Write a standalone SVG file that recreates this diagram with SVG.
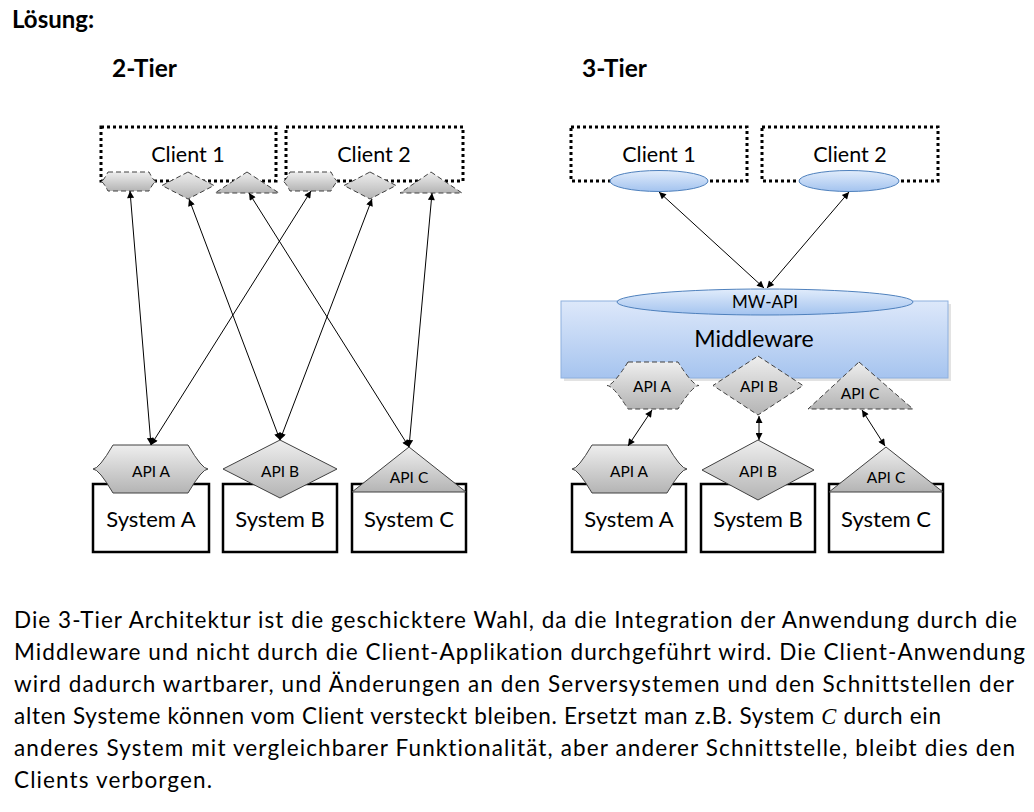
<svg xmlns="http://www.w3.org/2000/svg" width="1034" height="812" viewBox="0 0 1034 812">
<defs>
<linearGradient id="gGray" x1="0" y1="0" x2="0" y2="1"><stop offset="0" stop-color="#eeeeee"/><stop offset="1" stop-color="#b4b4b4"/></linearGradient>
<linearGradient id="gBlue" x1="0" y1="0" x2="0" y2="1"><stop offset="0" stop-color="#e1ecfb"/><stop offset="1" stop-color="#a3c3ef"/></linearGradient>
<linearGradient id="gMw" x1="0" y1="0" x2="0" y2="1"><stop offset="0" stop-color="#dde8fa"/><stop offset="1" stop-color="#a6c4ef"/></linearGradient>
<marker id="ah" viewBox="0 0 10 10" refX="10" refY="5" markerWidth="9" markerHeight="7" markerUnits="userSpaceOnUse" orient="auto-start-reverse"><path d="M0,0 L10,5 L0,10 z" fill="#000"/></marker>
<style>
.t{font-family:Lato,"Liberation Sans",sans-serif;fill:#000;font-variant-ligatures:none}
.b{font-weight:bold}
.client{fill:#fff;stroke:#000;stroke-width:3;stroke-dasharray:3 3}
.sys{fill:#fff;stroke:#000;stroke-width:2.5}
.api{fill:url(#gGray);stroke:#404040;stroke-width:1}
.dash{stroke-dasharray:5 3}
.ell{fill:url(#gBlue);stroke:#4f81bd;stroke-width:1}
.conn line{stroke:#000;stroke-width:1;marker-start:url(#ah);marker-end:url(#ah)}
.lbl{font-size:21.5px;text-anchor:middle}
.slbl{font-size:22px;text-anchor:middle}
.albl{font-size:15.5px;text-anchor:middle}
.p{font-size:22.5px}
</style>
</defs>
<rect width="1034" height="812" fill="#fff"/>

<text class="t b" x="12" y="28" font-size="24">Lösung:</text>
<text class="t b" x="112" y="77" font-size="24.5">2-Tier</text>
<text class="t b" x="582" y="77" font-size="24.5">3-Tier</text>

<!-- 2-Tier -->
<g id="l-client1">
<rect class="client" x="101" y="127" width="175" height="54"/>
<text class="t lbl" x="188" y="162">Client 1</text>
</g>
<g id="l-client2">
<rect class="client" x="286" y="127" width="177" height="54"/>
<text class="t lbl" x="374" y="162">Client 2</text>
</g>
<g id="l-c1-apis">
<path class="api dash" d="M108,172 H149 Q153.9,181.5 156,181.5 Q153.9,181.5 149,191 H108 Q103.1,181.5 101,181.5 Q103.1,181.5 108,172 Z"/>
<path class="api dash" d="M188,172 L214,185.5 L188,199 L162,185.5 Z"/>
<path class="api dash" d="M247,172 L279,193 L215,193 Z"/>
</g>
<g id="l-c2-apis">
<path class="api dash" d="M290,172 H331 Q335.9,181.5 338,181.5 Q335.9,181.5 331,191 H290 Q285.1,181.5 283,181.5 Q285.1,181.5 290,172 Z"/>
<path class="api dash" d="M370,172 L396,185.5 L370,199 L344,185.5 Z"/>
<path class="api dash" d="M431,172 L462,193 L400,193 Z"/>
</g>
<g id="l-sysA">
<rect class="sys" x="93" y="484" width="116" height="68"/>
<path class="api" d="M113,445 H188 Q202,469 208,469 Q202,469 188,493 H113 Q99,469 93,469 Q99,469 113,445 Z"/>
<text class="t albl" x="151" y="477">API A</text>
<text class="t slbl" x="151" y="527">System A</text>
</g>
<g id="l-sysB">
<rect class="sys" x="223" y="484" width="114" height="68"/>
<path class="api" d="M280,440 L337,469 L280,498 L223,469 Z"/>
<text class="t albl" x="280" y="477">API B</text>
<text class="t slbl" x="280" y="527">System B</text>
</g>
<g id="l-sysC">
<rect class="sys" x="352" y="484" width="114" height="68"/>
<path class="api" d="M409,447 L466,492 L352,492 Z"/>
<text class="t albl" x="409" y="483">API C</text>
<text class="t slbl" x="409" y="527">System C</text>
</g>

<!-- 3-Tier -->
<g id="r-client1">
<rect class="client" x="571" y="127" width="176" height="54"/>
<text class="t lbl" x="659" y="162">Client 1</text>
<ellipse class="ell" cx="659" cy="181" rx="49" ry="10.5"/>
</g>
<g id="r-client2">
<rect class="client" x="762" y="127" width="176" height="54"/>
<text class="t lbl" x="850" y="162">Client 2</text>
<ellipse class="ell" cx="849" cy="181" rx="50" ry="10.5"/>
</g>
<g id="middleware">
<rect x="564" y="304" width="387" height="77" fill="#c8c8c8" opacity="0.5"/>
<rect x="561" y="301" width="387" height="77" fill="url(#gMw)" stroke="#8eb0de" stroke-width="1"/>
<ellipse class="ell" cx="765" cy="302" rx="148" ry="13"/>
<text class="t" x="765" y="308" font-size="17" text-anchor="middle">MW-API</text>
<text class="t" x="754" y="347" font-size="23" text-anchor="middle">Middleware</text>
<path class="api dash" d="M628,362 H678 Q692.7,385.5 699,385.5 Q692.7,385.5 678,409 H628 Q613.3,385.5 607,385.5 Q613.3,385.5 628,362 Z"/>
<text class="t albl" x="652" y="392">API A</text>
<path class="api dash" d="M758,356 L803,385.5 L758,415 L713,385.5 Z"/>
<text class="t albl" x="759" y="392">API B</text>
<path class="api dash" d="M859,362 L913,409 L808,409 Z"/>
<text class="t albl" x="860" y="399">API C</text>
</g>
<g id="r-sysA">
<rect class="sys" x="572" y="484" width="114" height="68"/>
<path class="api" d="M592,445 H667 Q681,469 687,469 Q681,469 667,493 H592 Q578,469 572,469 Q578,469 592,445 Z"/>
<text class="t albl" x="629" y="477">API A</text>
<text class="t slbl" x="629" y="527">System A</text>
</g>
<g id="r-sysB">
<rect class="sys" x="701" y="484" width="114" height="68"/>
<path class="api" d="M758,440 L814,470 L758,500 L702,470 Z"/>
<text class="t albl" x="758" y="477">API B</text>
<text class="t slbl" x="758" y="527">System B</text>
</g>
<g id="r-sysC">
<rect class="sys" x="829" y="484" width="114" height="68"/>
<path class="api" d="M886,447 L943,492 L829,492 Z"/>
<text class="t albl" x="886" y="483">API C</text>
<text class="t slbl" x="886" y="527">System C</text>
</g>

<g id="connectors" class="conn">
<line x1="130" y1="191" x2="151" y2="445"/>
<line x1="189" y1="199" x2="280" y2="440"/>
<line x1="249" y1="193" x2="409" y2="447"/>
<line x1="311" y1="191" x2="151" y2="445"/>
<line x1="372" y1="199" x2="280" y2="440"/>
<line x1="432" y1="193" x2="409" y2="447"/>
<line x1="659" y1="192" x2="764" y2="288"/>
<line x1="849" y1="192" x2="767" y2="288"/>
<line x1="628" y1="446" x2="652" y2="410"/>
<line x1="759" y1="416" x2="759" y2="440"/>
<line x1="862" y1="410" x2="885" y2="446"/>
</g>

<g id="paragraph">
<text class="t p" x="14" y="628" textLength="1003">Die 3-Tier Architektur ist die geschicktere Wahl, da die Integration der Anwendung durch die</text>
<text class="t p" x="14" y="660" textLength="1011">Middleware und nicht durch die Client-Applikation durchgeführt wird. Die Client-Anwendung</text>
<text class="t p" x="14" y="692" textLength="1000">wird dadurch wartbarer, und Änderungen an den Serversystemen und den Schnittstellen der</text>
<text class="t p" x="14" y="724" textLength="927">alten Systeme können vom Client versteckt bleiben. Ersetzt man z.B. System <tspan font-family="'Liberation Serif',serif" font-style="italic">C</tspan> durch ein</text>
<text class="t p" x="14" y="756" textLength="1001">anderes System mit vergleichbarer Funktionalität, aber anderer Schnittstelle, bleibt dies den</text>
<text class="t p" x="14" y="788" textLength="198">Clients verborgen.</text>
</g>
</svg>
